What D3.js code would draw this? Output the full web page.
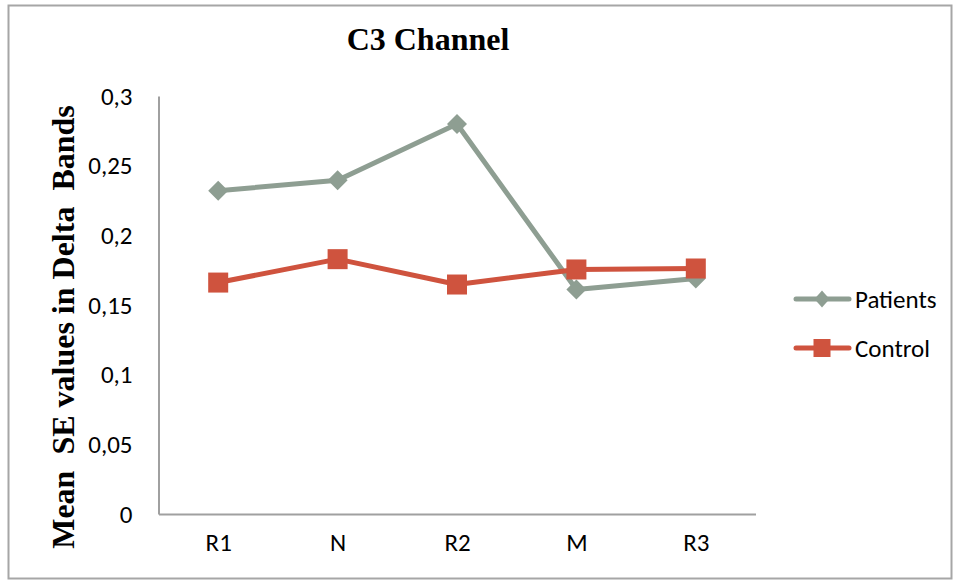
<!DOCTYPE html>
<html>
<head>
<meta charset="utf-8">
<script src="https://cdn.jsdelivr.net/npm/d3@7/dist/d3.min.js"></script>
<style>
  html, body { margin: 0; padding: 0; background: #fff; }
  svg { display: block; }
  .tick text, .legend text { font-family: Carlito, Calibri, Lato, "Liberation Sans", sans-serif; font-size: 25px; fill: #000; }
</style>
</head>
<body>
<svg id="chart" width="959" height="581"></svg>
<script>
// Sleep stages on the x axis
const categories = ["R1", "N", "R2", "M", "R3"];
// Mean SE values in the delta band, C3 channel
const patients = [0.232, 0.2396, 0.2799, 0.1611, 0.169];
const control  = [0.1661, 0.1829, 0.1647, 0.1755, 0.1762];
const yTicks = [0, 0.05, 0.1, 0.15, 0.2, 0.25, 0.3];
const seriesNames = ["Patients", "Control"];
const seriesColors = ["#8e9e92", "#cf533e"];

const svg = d3.select("#chart");

// outer frame
svg.append("rect")
  .attr("x", 8.5).attr("y", 5.5)
  .attr("width", 943).attr("height", 573)
  .attr("fill", "#fff")
  .attr("stroke", "#a6a6a6").attr("stroke-width", 2);

const plot = { left: 158.5, right: 755.5, top: 96, bottom: 514 };

const x = d3.scalePoint().domain(categories).range([plot.left, plot.right]).padding(0.5);
const y = d3.scaleLinear().domain([0, 0.3]).range([plot.bottom, plot.top]);

const locale = d3.formatLocale({ decimal: ",", thousands: ".", grouping: [3], currency: ["", ""] });
const fmt = locale.format(".2~f");

// axes
const yAxis = svg.append("g")
  .attr("transform", `translate(${plot.left},0)`)
  .call(d3.axisLeft(y).tickValues(yTicks).tickFormat(fmt).tickSize(0).tickPadding(26));
const xAxis = svg.append("g")
  .attr("transform", `translate(0,${plot.bottom})`)
  .call(d3.axisBottom(x).tickSize(0).tickPadding(19));
[yAxis, xAxis].forEach(g => {
  g.select(".domain").attr("stroke", "#a0a0a0").attr("stroke-width", 2);
  g.selectAll(".tick text").attr("fill", "#000");
});

// title
svg.append("text")
  .attr("x", 428).attr("y", 50)
  .attr("text-anchor", "middle")
  .attr("font-family", "'Liberation Serif', 'Times New Roman', serif")
  .attr("font-weight", "bold")
  .attr("font-size", 32)
  .text("C3 Channel");

// y-axis title
svg.append("text")
  .attr("transform", "translate(74,327) rotate(-90)")
  .attr("text-anchor", "middle")
  .attr("font-family", "'Liberation Serif', 'Times New Roman', serif")
  .attr("font-weight", "bold")
  .attr("font-size", 32)
  .style("white-space", "pre")
  .text("Mean  SE values in Delta  Bands");

const line = d3.line().x((d, i) => x(categories[i])).y(d => y(d));

function diamond(g, cx, cy, w, h, color) {
  g.append("path")
    .attr("d", `M${cx},${cy - h / 2}L${cx + w / 2},${cy}L${cx},${cy + h / 2}L${cx - w / 2},${cy}Z`)
    .attr("fill", color);
}
function square(g, cx, cy, w, h, color) {
  g.append("rect")
    .attr("x", cx - w / 2).attr("y", cy - h / 2)
    .attr("width", w).attr("height", h)
    .attr("fill", color);
}

const series = [patients, control];
series.forEach((vals, s) => {
  const g = svg.append("g");
  g.append("path")
    .attr("d", line(vals))
    .attr("fill", "none")
    .attr("stroke", seriesColors[s])
    .attr("stroke-width", 5)
    .attr("stroke-linejoin", "round");
  vals.forEach((v, i) => {
    if (s === 0) diamond(g, x(categories[i]), y(v), 20, 20, seriesColors[s]);
    else square(g, x(categories[i]), y(v), 20, 20, seriesColors[s]);
  });
});

// legend
const legend = svg.append("g").attr("class", "legend");
seriesNames.forEach((name, s) => {
  const cy = 299 + s * 49;
  legend.append("line")
    .attr("x1", 796).attr("x2", 849)
    .attr("y1", cy).attr("y2", cy)
    .attr("stroke", seriesColors[s])
    .attr("stroke-width", 5)
    .attr("stroke-linecap", "round");
  if (s === 0) diamond(legend, 822, cy, 15, 17, seriesColors[s]);
  else square(legend, 822, cy, 17, 18, seriesColors[s]);
  legend.append("text")
    .attr("x", 855).attr("y", cy)
    .attr("dy", "0.35em")
    .text(name);
});
</script>
</body>
</html>
